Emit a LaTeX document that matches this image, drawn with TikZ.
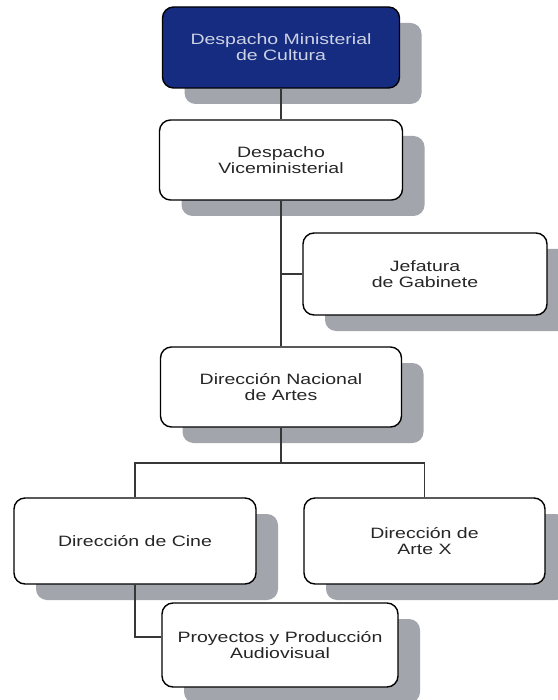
\documentclass[tikz,border=0pt]{standalone}
\usepackage{fontspec}
\setmainfont{Liberation Sans}[FakeStretch=1.3]
\usetikzlibrary{shadows}
\definecolor{navy}{RGB}{22,44,128}
\definecolor{shgray}{RGB}{163,165,172}
\definecolor{linegray}{RGB}{55,55,55}
\definecolor{paletext}{RGB}{205,210,228}
\begin{document}
\begin{tikzpicture}[x=1pt,y=-1pt,
  unit/.style={draw=black, line width=1.4pt, rounded corners=11pt, fill=white,
    align=center, inner sep=0pt, text=black!85,
    font=\fontsize{15}{16}\selectfont,
    drop shadow={shadow xshift=22pt, shadow yshift=-16pt, fill=shgray, opacity=1}},
  head/.style={unit, fill=navy, text=paletext},
  link/.style={draw=linegray, line width=1.3pt}]
  \fill[white] (0,0) rectangle (557,700);
  \useasboundingbox (0,0) rectangle (557,700);

  % boxes of the organisation chart
  \node[head, minimum width=237pt, minimum height=81pt] (n1) at (281,47.5)
    {Despacho Ministerial\\de Cultura};
  \node[unit, minimum width=243pt, minimum height=80pt] (n2) at (281,160)
    {Despacho\\Viceministerial};
  \node[unit, minimum width=244pt, minimum height=82pt] (n3) at (425,274)
    {Jefatura\\de Gabinete};
  \node[unit, minimum width=241pt, minimum height=80pt] (n4) at (281,387)
    {Dirección Nacional\\de Artes};
  \node[unit, minimum width=242pt, minimum height=86pt] (n5) at (135,541)
    {Dirección de Cine};
  \node[unit, minimum width=241pt, minimum height=86pt] (n6) at (424.5,541)
    {Dirección de\\Arte X};
  \node[unit, minimum width=236pt, minimum height=84pt] (n7) at (280,645)
    {Proyectos y Producción\\Audiovisual};

  % connectors
  \coordinate (bus) at (281,463);
  \draw[link] (n1.south) -- (n2.north);
  \draw[link] (n2.south) -- (n4.north);
  \draw[link] (n3.west) -- (n3.west -| n2.south);
  \draw[link] (n4.south) -- (bus);
  \draw[link] (n5.north) -- (n5.north |- bus) -- (n6.north |- bus) -- (n6.north);
  \draw[link] (n5.south) |- ([yshift=8pt]n7.west);
\end{tikzpicture}
\end{document}
